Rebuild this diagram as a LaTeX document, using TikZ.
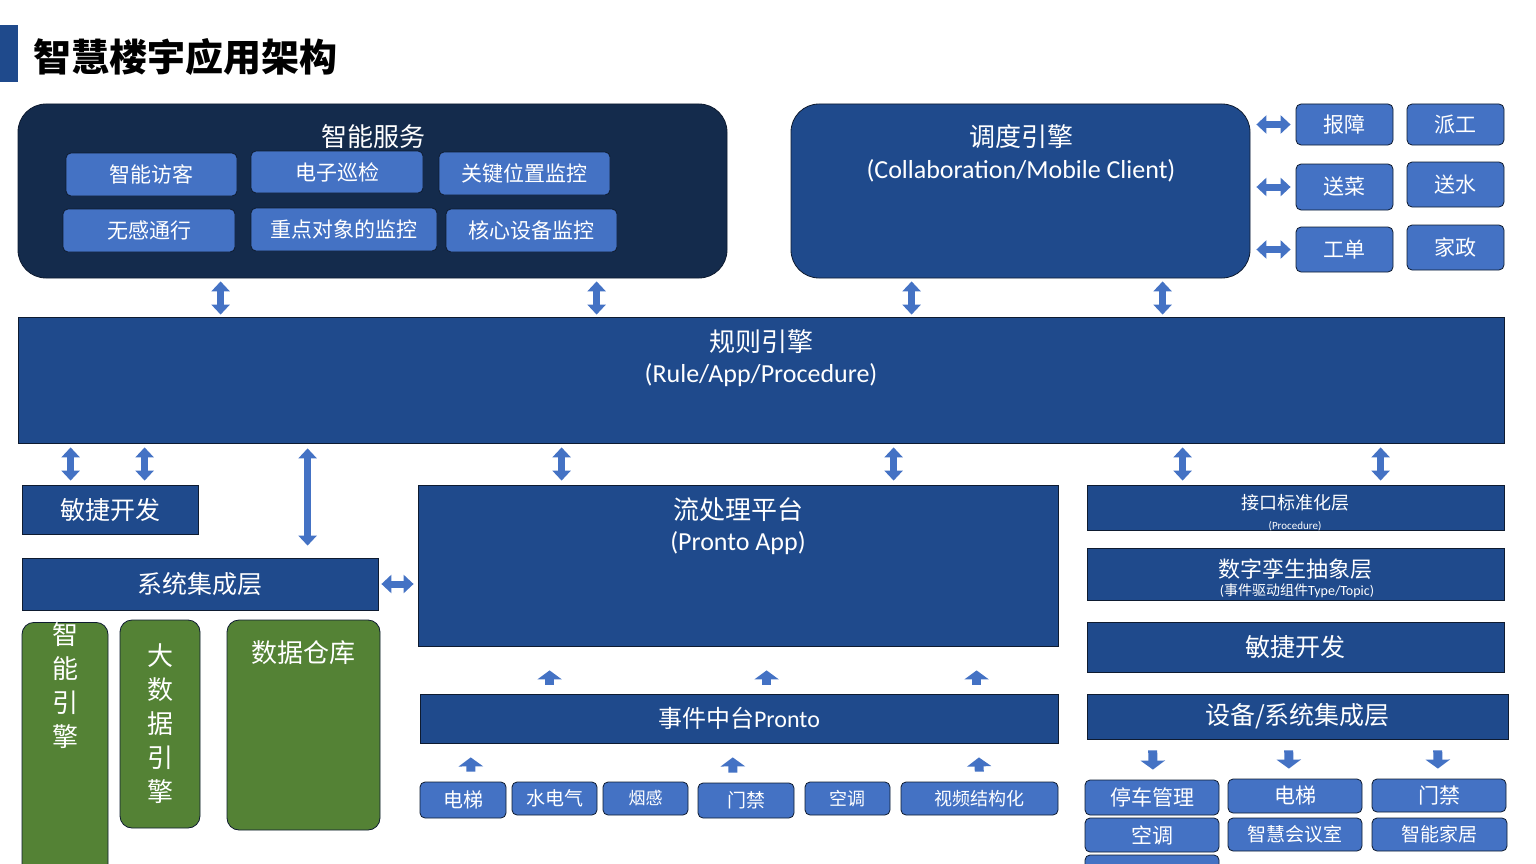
\documentclass[tikz,border=0pt]{standalone}
\usepackage{fontspec}
\setmainfont{Carlito}
\newfontfamily\cjk{Noto Sans CJK SC}
\usetikzlibrary{arrows.meta}
\definecolor{navy}{HTML}{142B4C}
\definecolor{bmain}{HTML}{1F4A8C}
\definecolor{bbtn}{HTML}{4472C4}
\definecolor{bgrn}{HTML}{548235}
\definecolor{edge}{HTML}{0E1B30}
\tikzset{
  blk/.style={draw=edge, line width=0.8pt, fill=bmain, text=white, inner sep=0pt},
  btn/.style={blk, fill=bbtn, rounded corners=5pt},
  grn/.style={blk, fill=bgrn, rounded corners=12pt, align=center},
  txt/.style={text=white, inner sep=0pt, align=center},
  varr/.style={draw=bbtn, line width=7pt, {Triangle[length=10pt,width=18pt]}-{Triangle[length=10pt,width=18pt]}},
  barr/.style={draw=bbtn, line width=9pt, -{Triangle[length=9pt,width=24pt]}},
}
\begin{document}
\begin{tikzpicture}[x=1pt, y=-1pt]
        \useasboundingbox (0,0) rectangle (1536,864);
        % Title
        \fill[bmain] (0,25) rectangle (18,82);
        \node[anchor=west, inner sep=0pt, font=\fontsize{38}{40}\selectfont\cjk\bfseries] (title) at (33,57) {智慧楼宇应用架构};

        % Top: services
        \node[blk, fill=navy, rounded corners=28pt, minimum width=709, minimum height=174] (svc) at (372.5,191) {};
        \node[txt, font=\fontsize{26}{28}\selectfont\cjk] (svct) at (373,137) {智能服务};
        \node[btn, minimum width=171, minimum height=43, font=\fontsize{21}{22}\selectfont\cjk] (fk) at (151.5,174.5) {智能访客};
        \node[btn, minimum width=172, minimum height=42, font=\fontsize{21}{22}\selectfont\cjk] (dz) at (337,172) {电子巡检};
        \node[btn, minimum width=171, minimum height=43, font=\fontsize{21}{22}\selectfont\cjk] (gj) at (524.5,173.5) {关键位置监控};
        \node[btn, minimum width=172, minimum height=43, font=\fontsize{21}{22}\selectfont\cjk] (wg) at (149,230.5) {无感通行};
        \node[btn, minimum width=186, minimum height=43, font=\fontsize{21}{22}\selectfont\cjk] (zd) at (344,229.5) {重点对象的监控};
        \node[btn, minimum width=171, minimum height=43, font=\fontsize{21}{22}\selectfont\cjk] (hx) at (531.5,230.5) {核心设备监控};

        % Top: dispatch engine
        \node[blk, rounded corners=28pt, minimum width=459, minimum height=174] (dd) at (1020.5,191) {};
        \node[txt, font=\fontsize{26}{28}\selectfont\cjk] (ddt) at (1021,137) {调度引擎};
        \node[txt, font=\fontsize{26}{28}\selectfont] (ddl) at (1021,171) {(Collaboration/Mobile Client)};
        \node[btn, minimum width=97, minimum height=41, font=\fontsize{21}{22}\selectfont\cjk] (bz) at (1344.5,124.5) {报障};
        \node[btn, minimum width=97, minimum height=41, font=\fontsize{21}{22}\selectfont\cjk] (pg) at (1455.5,124.5) {派工};
        \node[btn, minimum width=97, minimum height=46, font=\fontsize{21}{22}\selectfont\cjk] (sc) at (1344.5,187) {送菜};
        \node[btn, minimum width=97, minimum height=45, font=\fontsize{21}{22}\selectfont\cjk] (ss) at (1455.5,184.5) {送水};
        \node[btn, minimum width=97, minimum height=45, font=\fontsize{21}{22}\selectfont\cjk] (gd) at (1344.5,249.5) {工单};
        \node[btn, minimum width=97, minimum height=45, font=\fontsize{21}{22}\selectfont\cjk] (jz) at (1455.5,247.5) {家政};
        \draw[varr, shorten <=6pt, shorten >=5pt] (dd.east |- bz.west) -- (bz.west);
        \draw[varr, shorten <=6pt, shorten >=5pt] (dd.east |- sc.west) -- (sc.west);
        \draw[varr, shorten <=6pt, shorten >=5pt] (dd.east |- gd.west) -- (gd.west);

        % Rule engine
        \node[blk, minimum width=1486, minimum height=126] (rule) at (761,380) {};
        \node[txt, font=\fontsize{26}{28}\selectfont\cjk] (rulet) at (761,342) {规则引擎};
        \node[txt, font=\fontsize{26}{28}\selectfont] (rulel) at (761,375) {(Rule/App/Procedure)};
        \draw[varr, shorten <=3pt, shorten >=2pt] ([xshift=203]svc.south west) -- ([xshift=203]rule.north west);
        \draw[varr, shorten <=3pt, shorten >=2pt] ([xshift=579]svc.south west) -- ([xshift=579]rule.north west);
        \draw[varr, shorten <=3pt, shorten >=2pt] ([xshift=121]dd.south west) -- ([xshift=894]rule.north west);
        \draw[varr, shorten <=3pt, shorten >=2pt] ([xshift=372]dd.south west) -- ([xshift=1145]rule.north west);

        % Left column
        \node[blk, minimum width=176, minimum height=49, font=\fontsize{25}{26}\selectfont\cjk] (ag1) at (110,509.5) {敏捷开发};
        \node[blk, minimum width=356, minimum height=52, font=\fontsize{25}{26}\selectfont\cjk] (sys) at (200,584) {系统集成层};
        \node[grn, minimum width=86, minimum height=208, font=\fontsize{26}{34}\selectfont\cjk, anchor=north, text depth=150pt] (g1) at (65,622) {智\\能\\引\\擎};
        \node[grn, minimum width=80, minimum height=208, font=\fontsize{26}{34}\selectfont\cjk] (g2) at (160,724) {大\\数\\据\\引\\擎};
        \node[grn, minimum width=153, minimum height=210] (g3) at (303.5,725) {};
        \node[txt, font=\fontsize{26}{28}\selectfont\cjk] (g3t) at (303,653) {数据仓库};
        \draw[varr, shorten <=4pt, shorten >=4pt] ([xshift=53]rule.south west) -- ([xshift=49]ag1.north west);
        \draw[varr, shorten <=4pt, shorten >=4pt] ([xshift=127]rule.south west) -- ([xshift=123]ag1.north west);
        \draw[varr, shorten <=5pt, shorten >=12pt] ([xshift=290]rule.south west) -- ([xshift=286]sys.north west);

        % Stream platform
        \node[blk, minimum width=640, minimum height=161] (flow) at (738,565.5) {};
        \node[txt, font=\fontsize{26}{28}\selectfont\cjk] (flowt) at (738,510) {流处理平台};
        \node[txt, font=\fontsize{26}{28}\selectfont] (flowl) at (738,543) {(Pronto App)};
        \draw[varr, shorten <=3pt, shorten >=4pt] (sys.east) -- (sys.east -| flow.west);
        \draw[varr, shorten <=4pt, shorten >=4pt] ([xshift=544]rule.south west) -- ([xshift=144]flow.north west);
        \draw[varr, shorten <=4pt, shorten >=4pt] ([xshift=876]rule.south west) -- ([xshift=476]flow.north west);

        % Event platform
        \node[blk, minimum width=638, minimum height=49, font=\fontsize{24}{26}\selectfont] (evt) at (739,718.5) {{\cjk 事件中台}Pronto};
        \draw[barr, shorten <=9pt, shorten >=24pt] ([xshift=130]evt.north west) -- ([xshift=132]flow.south west);
        \draw[barr, shorten <=9pt, shorten >=24pt] ([xshift=347]evt.north west) -- ([xshift=349]flow.south west);
        \draw[barr, shorten <=9pt, shorten >=24pt] ([xshift=557]evt.north west) -- ([xshift=559]flow.south west);

        % Devices
        \node[btn, minimum width=86, minimum height=36, font=\fontsize{20}{22}\selectfont\cjk] (dt) at (463,800) {电梯};
        \node[btn, minimum width=85, minimum height=33, font=\fontsize{19}{21}\selectfont\cjk] (sdq) at (554.5,798.5) {水电气};
        \node[btn, minimum width=85, minimum height=33, font=\fontsize{17}{19}\selectfont\cjk] (yg) at (645.5,798.5) {烟感};
        \node[btn, minimum width=96, minimum height=35, font=\fontsize{19}{21}\selectfont\cjk] (mj) at (746,800.5) {门禁};
        \node[btn, minimum width=85, minimum height=33, font=\fontsize{18}{20}\selectfont\cjk] (kt) at (847.5,798.5) {空调};
        \node[btn, minimum width=157, minimum height=33, font=\fontsize{18}{20}\selectfont\cjk] (sp) at (979.5,798.5) {视频结构化};
        \draw[barr, shorten <=10pt, shorten >=14pt] ([xshift=8]dt.north) -- ([xshift=51]evt.south west);
        \draw[barr, shorten <=10pt, shorten >=14pt] ([xshift=-13]mj.north) -- ([xshift=313]evt.south west);
        \draw[barr, shorten <=10pt, shorten >=14pt] (sp.north) -- ([xshift=559]evt.south west);

        % Right column
        \node[blk, minimum width=417, minimum height=45] (api) at (1295.5,507.5) {};
        \node[txt, font=\fontsize{18}{20}\selectfont\cjk] (apit) at (1295,503) {接口标准化层};
        \node[txt, font=\fontsize{11}{12}\selectfont] (apil) at (1295,526) {(Procedure)};
        \node[blk, minimum width=417, minimum height=52] (twin) at (1295.5,574) {};
        \node[txt, font=\fontsize{22}{24}\selectfont\cjk] (twint) at (1295,569) {数字孪生抽象层};
        \node[txt, font=\fontsize{14}{15}\selectfont] (twinl) at (1297,591) {({\cjk 事件驱动组件}Type/Topic)};
        \node[blk, minimum width=417, minimum height=50, font=\fontsize{25}{26}\selectfont\cjk] (ag2) at (1295.5,647) {敏捷开发};
        \node[blk, minimum width=421, minimum height=45, font=\fontsize{25}{26}\selectfont\cjk] (dev) at (1297.5,716.5) {设备/系统集成层};
        \draw[varr, shorten <=4pt, shorten >=4pt] ([xshift=1165]rule.south west) -- ([xshift=96]api.north west);
        \draw[varr, shorten <=4pt, shorten >=4pt] ([xshift=1363]rule.south west) -- ([xshift=294]api.north west);

        % Right devices
        \node[btn, minimum width=134, minimum height=35, font=\fontsize{21}{22}\selectfont\cjk] (tc) at (1152,797.5) {停车管理};
        \node[btn, minimum width=134, minimum height=34, font=\fontsize{21}{22}\selectfont\cjk] (dt2) at (1295,796) {电梯};
        \node[btn, minimum width=134, minimum height=33, font=\fontsize{21}{22}\selectfont\cjk] (mj2) at (1439,795.5) {门禁};
        \node[btn, minimum width=134, minimum height=34, font=\fontsize{21}{22}\selectfont\cjk] (kt2) at (1152,835) {空调};
        \node[btn, minimum width=134, minimum height=33, font=\fontsize{19}{21}\selectfont\cjk] (hy) at (1295,834.5) {智慧会议室};
        \node[btn, minimum width=135, minimum height=33, font=\fontsize{19}{21}\selectfont\cjk] (jj) at (1439.5,834.5) {智能家居};
        \begin{scope}
          \clip (1000,850) rectangle (1300,864);
          \node[btn, minimum width=134, minimum height=34] (more) at (1152,872) {};
        \end{scope}
        \draw[barr, shorten <=11pt, shorten >=10pt] ([xshift=66]dev.south west) -- ([xshift=1]tc.north);
        \draw[barr, shorten <=11pt, shorten >=10pt] ([xshift=202]dev.south west) -- ([xshift=-6]dt2.north);
        \draw[barr, shorten <=11pt, shorten >=10pt] ([xshift=351]dev.south west) -- ([xshift=-1]mj2.north);
\end{tikzpicture}
\end{document}
